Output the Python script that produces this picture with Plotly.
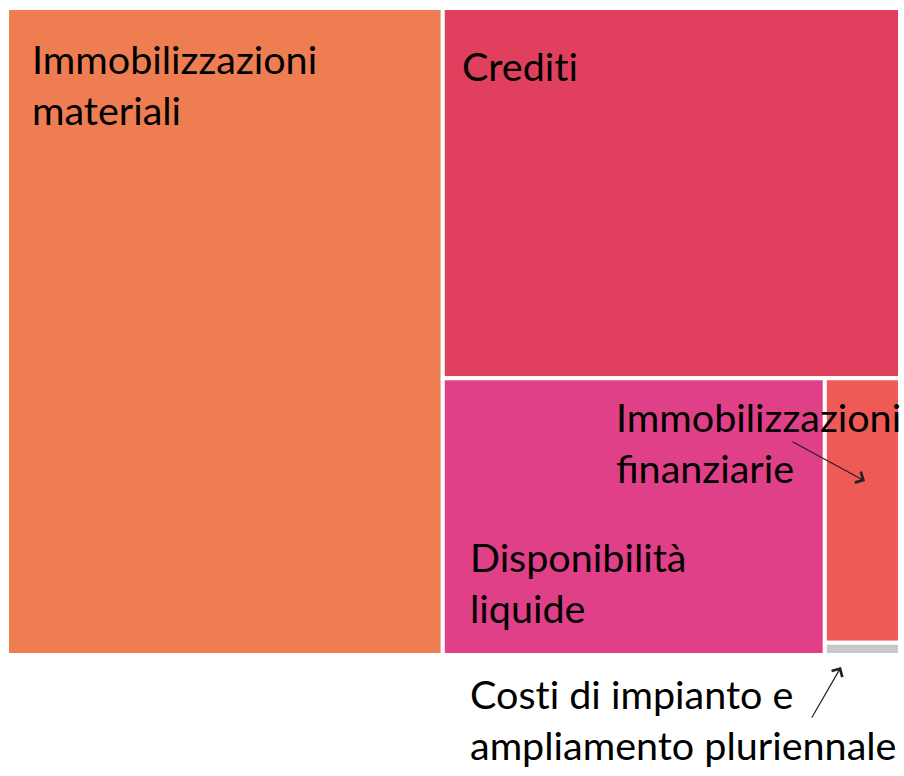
import plotly.graph_objects as go

# Asset composition (relative weights)
labels = [
    "Immobilizzazioni materiali",
    "Crediti",
    "Disponibilità liquide",
    "Immobilizzazioni finanziarie",
    "Costi di impianto e ampliamento pluriennale",
]
values = [48.8, 29.3, 18.3, 3.44, 0.16]
colors = ["#EF7D52", "#E0405E", "#E04088", "#EF5A56", "#C8C8C8"]

W, H = 904, 776
L, R, T, B = 7, 4, 8, 121
PW, PH = W - L - R, H - T - B


def px(x):
    return (x - L) / PW


def py(y):
    return 1 - (y - T) / PH


fig = go.Figure(
    go.Treemap(
        labels=labels,
        parents=[""] * len(labels),
        values=values,
        sort=True,
        marker=dict(colors=colors, line=dict(color="white", width=4), pad=dict(t=0, l=0, r=0, b=0)),
        tiling=dict(packing="squarify", squarifyratio=1, pad=0),
        textinfo="none",
        pathbar=dict(visible=False),
        hovertemplate="%{label}: %{value}<extra></extra>",
    )
)

FONT = dict(family="Lato", size=39.5, color="black")

# "\u200c" keeps "t" and "i" as separate glyphs
texts = [
    ("Immobilizzazioni<br>materiali", 31, 33.5),
    ("Credit\u200ci", 461, 40.5),
    ("Immobilizzazioni<br>finanziarie", 615, 391.5),
    ("Disponibilità<br>liquide", 469, 531.5),
    ("Cost\u200ci di impianto e<br>ampliamento pluriennale", 469, 668.5),
]
annotations = [
    dict(text=t, x=px(x), y=py(y), xref="paper", yref="paper", xanchor="left",
         yanchor="top", align="left", showarrow=False, font=FONT, borderpad=0)
    for t, x, y in texts
]

# Pointer arrows for the two small tiles
arrows = [
    ((865, 481), (791, 441)),
    ((841, 667), (811, 719)),
]
for (hx, hy), (tx, ty) in arrows:
    annotations.append(dict(
        text="", x=px(hx), y=py(hy), xref="paper", yref="paper",
        ax=tx - hx, ay=ty - hy, axref="pixel", ayref="pixel",
        showarrow=True, arrowhead=4, arrowsize=2, arrowwidth=1.2, arrowcolor="#222222",
    ))

fig.update_layout(
    width=W, height=H,
    margin=dict(l=L, r=R, t=T, b=B),
    paper_bgcolor="white",
    annotations=annotations,
    showlegend=False,
)

fig.write_html("out.html")
